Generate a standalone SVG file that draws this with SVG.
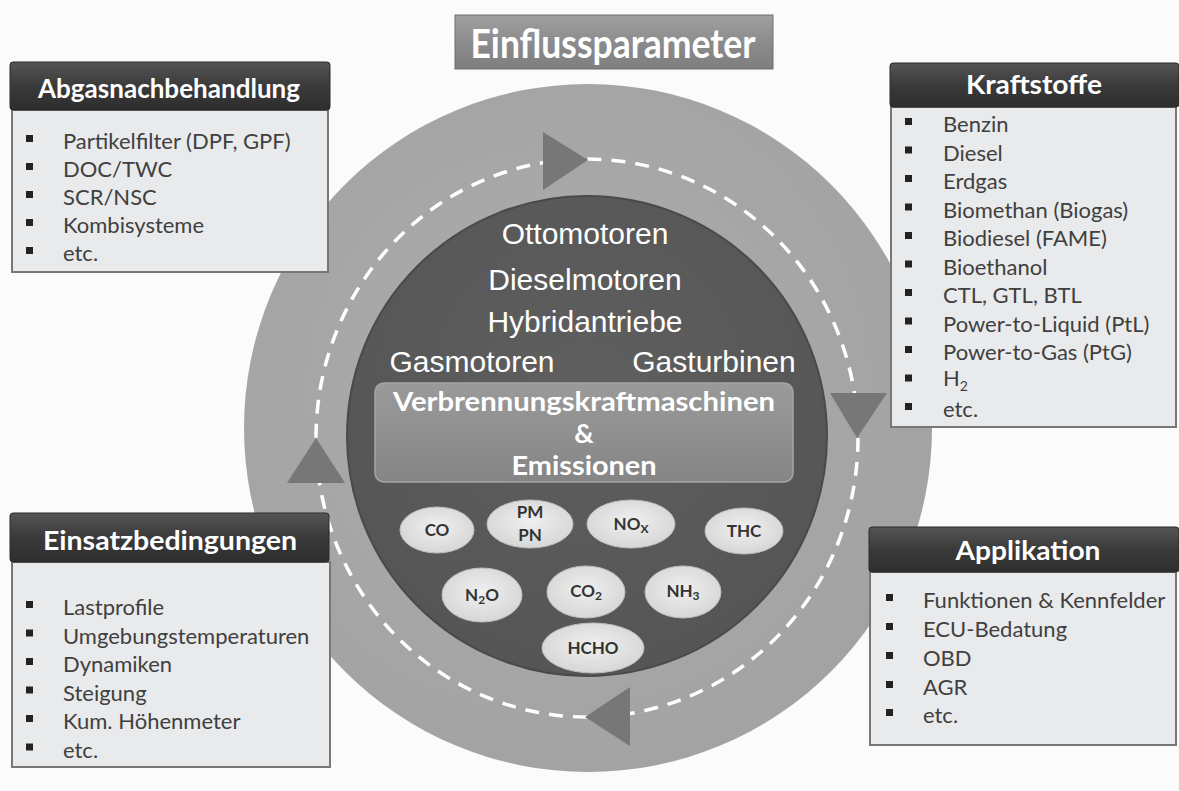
<svg xmlns="http://www.w3.org/2000/svg" width="1179" height="791" viewBox="0 0 1179 791">
<defs>
<style>
.hdr{fill:url(#hdrG);stroke:#2a2a2a;stroke-width:1}
.body{fill:#e9eaeb;stroke:#777;stroke-width:2}
.ht{font-family:Lato,"Open Sans",sans-serif;font-weight:bold;font-size:27px;fill:#fff;text-anchor:middle}
.tt{font-family:Lato,"Open Sans",sans-serif;font-weight:bold;font-size:41px;fill:#fff;text-anchor:middle}
.it{font-family:Lato,"Open Sans",sans-serif;font-size:22px;fill:#404040}
.bu{fill:#222}
.ct{font-family:"Liberation Sans",Arial,sans-serif;font-size:30px;fill:#fff;text-anchor:middle}
.em{font-family:Lato,"Open Sans",sans-serif;font-weight:bold;font-size:27px;fill:#fff;text-anchor:middle}
.el{fill:url(#elG);stroke:#bdbdbd;stroke-width:1}
.et{font-family:Lato,"Open Sans",sans-serif;font-weight:bold;font-size:17px;fill:#333;text-anchor:middle}
.tri{fill:#777}
</style>
<linearGradient id="hdrG" x1="0" y1="0" x2="0" y2="1"><stop offset="0" stop-color="#555"/><stop offset="0.5" stop-color="#3a3a3a"/><stop offset="1" stop-color="#2e2e2e"/></linearGradient>
<linearGradient id="titG" x1="0" y1="0" x2="0" y2="1"><stop offset="0" stop-color="#a0a0a0"/><stop offset="0.5" stop-color="#8c8c8c"/><stop offset="1" stop-color="#7e7e7e"/></linearGradient>
<linearGradient id="boxG" x1="0" y1="0" x2="0" y2="1"><stop offset="0" stop-color="#9a9a9a"/><stop offset="1" stop-color="#858585"/></linearGradient>
<radialGradient id="elG" cx="0.5" cy="0.45" r="0.6"><stop offset="0" stop-color="#f0f0f0"/><stop offset="1" stop-color="#d4d4d4"/></radialGradient>
<radialGradient id="outG" cx="0.45" cy="0.45" r="0.6"><stop offset="0" stop-color="#adadad"/><stop offset="1" stop-color="#a2a2a2"/></radialGradient>
<radialGradient id="inG" cx="0.5" cy="0.4" r="0.6"><stop offset="0" stop-color="#5f5f5f"/><stop offset="1" stop-color="#555"/></radialGradient>
</defs>
<rect width="1179" height="791" fill="#fbfbfb"/>

<g id="ring">
<circle cx="588" cy="428" r="344" fill="url(#outG)"/>
</g>

<g id="connectors">
<ellipse cx="587" cy="438" rx="271" ry="279" fill="none" stroke="#fff" stroke-width="3.5" stroke-dasharray="14 10"/>
<polygon class="tri" points="543,132 543,190 588,160"/>
<polygon class="tri" points="830,393 887,393 857,438"/>
<polygon class="tri" points="630,687 630,746 585,717"/>
<polygon class="tri" points="287,483 345,483 316,438"/>
</g>

<g id="core">
<circle cx="587" cy="436" r="240" fill="url(#inG)" stroke="#4a4a4a" stroke-width="2"/>
<text class="ct" x="585" y="244">Ottomotoren</text>
<text class="ct" x="585" y="290">Dieselmotoren</text>
<text class="ct" x="585" y="332">Hybridantriebe</text>
<text class="ct" x="472" y="372">Gasmotoren</text>
<text class="ct" x="714" y="372">Gasturbinen</text>
</g>

<g id="vkm">
<rect x="375" y="383" width="418" height="99" rx="9" fill="url(#boxG)" stroke="#a5a5a5" stroke-width="1.5"/>
<text class="em" x="584" y="411" textLength="382" lengthAdjust="spacingAndGlyphs">Verbrennungskraftmaschinen</text>
<text class="em" x="584" y="443">&amp;</text>
<text class="em" x="584" y="475" textLength="145" lengthAdjust="spacingAndGlyphs">Emissionen</text>
</g>

<g id="emissions">
<g id="e-co"><ellipse class="el" cx="437" cy="530" rx="37" ry="23"/><text class="et" x="437" y="536">CO</text></g>
<g id="e-pm"><ellipse class="el" cx="530" cy="524" rx="43" ry="24"/><text class="et" x="530" y="518">PM</text><text class="et" x="530" y="541">PN</text></g>
<g id="e-nox"><ellipse class="el" cx="631" cy="524" rx="44" ry="24"/><text class="et" x="631" y="530">NO<tspan font-size="12" dy="3">X</tspan></text></g>
<g id="e-thc"><ellipse class="el" cx="744" cy="531" rx="39" ry="23"/><text class="et" x="744" y="537">THC</text></g>
<g id="e-n2o"><ellipse class="el" cx="482" cy="595" rx="40" ry="27"/><text class="et" x="482" y="601">N<tspan font-size="12" dy="3">2</tspan><tspan dy="-3">O</tspan></text></g>
<g id="e-co2"><ellipse class="el" cx="586" cy="592" rx="39" ry="26"/><text class="et" x="586" y="597">CO<tspan font-size="12" dy="3">2</tspan></text></g>
<g id="e-nh3"><ellipse class="el" cx="683" cy="592" rx="38" ry="26"/><text class="et" x="683" y="597">NH<tspan font-size="12" dy="3">3</tspan></text></g>
<g id="e-hcho"><ellipse class="el" cx="593" cy="648" rx="51" ry="25"/><text class="et" x="593" y="654">HCHO</text></g>
</g>

<g id="title">
<rect x="455" y="15" width="318" height="54" fill="url(#titG)" stroke="#6e6e6e" stroke-width="1"/>
<text class="tt" x="613" y="58" textLength="285" lengthAdjust="spacingAndGlyphs">Einflussparameter</text>
</g>

<g id="abgas">
<rect class="body" x="12" y="110" width="316" height="162"/>
<rect class="hdr" x="10" y="62" width="320" height="48" rx="3"/>
<text class="ht" x="169" y="98" textLength="262" lengthAdjust="spacingAndGlyphs">Abgasnachbehandlung</text>
<rect class="bu" x="26" y="135" width="7" height="7"/><text class="it" x="63" y="149">Partikelfilter (DPF, GPF)</text>
<rect class="bu" x="26" y="163" width="7" height="7"/><text class="it" x="63" y="177">DOC/TWC</text>
<rect class="bu" x="26" y="191" width="7" height="7"/><text class="it" x="63" y="205">SCR/NSC</text>
<rect class="bu" x="26" y="219" width="7" height="7"/><text class="it" x="63" y="233">Kombisysteme</text>
<rect class="bu" x="26" y="247" width="7" height="7"/><text class="it" x="63" y="261">etc.</text>
</g>

<g id="kraftstoffe">
<rect class="body" x="891" y="107" width="285" height="320"/>
<rect class="hdr" x="890" y="63" width="289" height="44" rx="3"/>
<text class="ht" x="1034" y="94" textLength="136" lengthAdjust="spacingAndGlyphs">Kraftstoffe</text>
<rect class="bu" x="905" y="118" width="7" height="7"/><text class="it" x="943" y="132">Benzin</text>
<rect class="bu" x="905" y="146.5" width="7" height="7"/><text class="it" x="943" y="160.5">Diesel</text>
<rect class="bu" x="905" y="175" width="7" height="7"/><text class="it" x="943" y="189">Erdgas</text>
<rect class="bu" x="905" y="203.5" width="7" height="7"/><text class="it" x="943" y="217.5">Biomethan (Biogas)</text>
<rect class="bu" x="905" y="232" width="7" height="7"/><text class="it" x="943" y="246">Biodiesel (FAME)</text>
<rect class="bu" x="905" y="260.5" width="7" height="7"/><text class="it" x="943" y="274.5">Bioethanol</text>
<rect class="bu" x="905" y="289" width="7" height="7"/><text class="it" x="943" y="303">CTL, GTL, BTL</text>
<rect class="bu" x="905" y="317.5" width="7" height="7"/><text class="it" x="943" y="331.5">Power-to-Liquid (PtL)</text>
<rect class="bu" x="905" y="346" width="7" height="7"/><text class="it" x="943" y="360">Power-to-Gas (PtG)</text>
<rect class="bu" x="905" y="374.5" width="7" height="7"/><text class="it" x="943" y="386">H<tspan font-size="14" dy="5">2</tspan></text>
<rect class="bu" x="905" y="403" width="7" height="7"/><text class="it" x="943" y="417">etc.</text>
</g>

<g id="einsatz">
<rect class="body" x="12" y="562" width="318" height="205"/>
<rect class="hdr" x="10" y="513" width="319" height="49" rx="3"/>
<text class="ht" x="170" y="550" textLength="254" lengthAdjust="spacingAndGlyphs">Einsatzbedingungen</text>
<rect class="bu" x="26" y="601" width="7" height="7"/><text class="it" x="63" y="615">Lastprofile</text>
<rect class="bu" x="26" y="629.5" width="7" height="7"/><text class="it" x="63" y="643.5">Umgebungstemperaturen</text>
<rect class="bu" x="26" y="658" width="7" height="7"/><text class="it" x="63" y="672">Dynamiken</text>
<rect class="bu" x="26" y="686.5" width="7" height="7"/><text class="it" x="63" y="700.5">Steigung</text>
<rect class="bu" x="26" y="715" width="7" height="7"/><text class="it" x="63" y="729">Kum. Höhenmeter</text>
<rect class="bu" x="26" y="743.5" width="7" height="7"/><text class="it" x="63" y="757.5">etc.</text>
</g>

<g id="applikation">
<rect class="body" x="870" y="572" width="306" height="173"/>
<rect class="hdr" x="869" y="527" width="310" height="45" rx="3"/>
<text class="ht" x="1028" y="560" textLength="145" lengthAdjust="spacingAndGlyphs">Applikation</text>
<rect class="bu" x="886" y="594" width="7" height="7"/><text class="it" x="923" y="608">Funktionen &amp; Kennfelder</text>
<rect class="bu" x="886" y="623" width="7" height="7"/><text class="it" x="923" y="637">ECU-Bedatung</text>
<rect class="bu" x="886" y="652" width="7" height="7"/><text class="it" x="923" y="666">OBD</text>
<rect class="bu" x="886" y="681" width="7" height="7"/><text class="it" x="923" y="695">AGR</text>
<rect class="bu" x="886" y="709" width="7" height="7"/><text class="it" x="923" y="723">etc.</text>
</g>
</svg>
